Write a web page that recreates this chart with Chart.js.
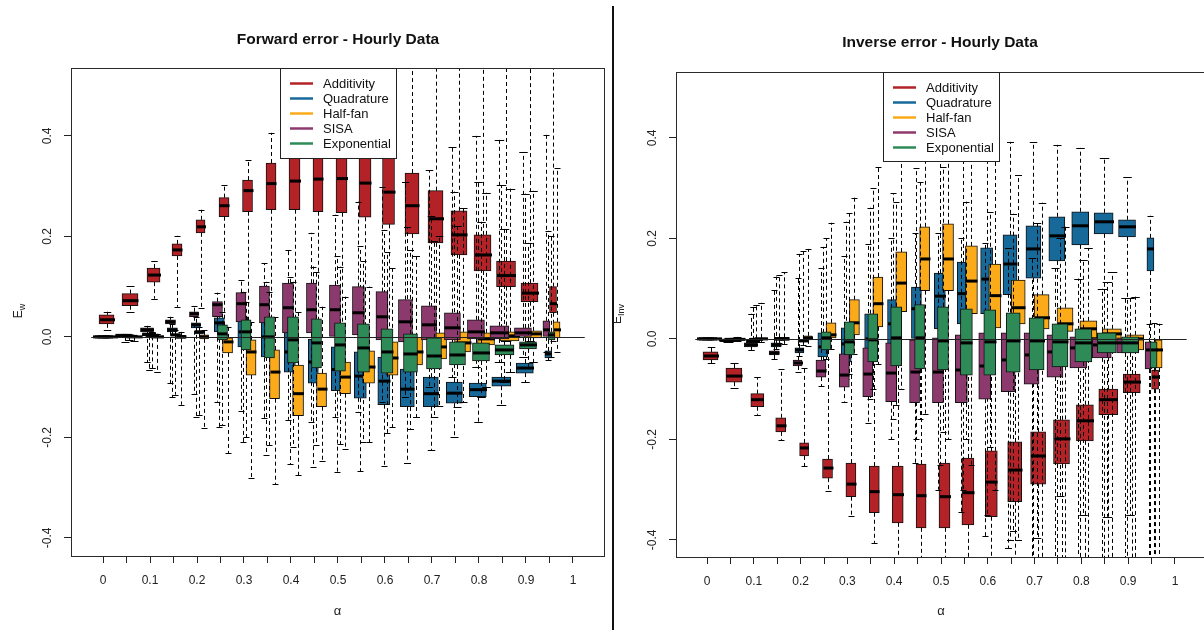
<!DOCTYPE html>
<html><head><meta charset="utf-8">
<script src="https://cdn.jsdelivr.net/npm/chart.js@4.4.1/dist/chart.umd.min.js"></script>
<style>
html,body{margin:0;padding:0;background:#fff;width:1204px;height:630px;overflow:hidden;}
#wrap{position:relative;width:1204px;height:630px;overflow:hidden;background:#fff;}
#cL{position:absolute;left:0;top:0;}
#cR{position:absolute;left:612px;top:0;}
#divider{position:absolute;left:612px;top:6px;width:2px;height:624px;background:#111;}
</style></head><body>
<div id="wrap">
<canvas id="cL" width="676" height="630"></canvas>
<canvas id="cR" width="656" height="630"></canvas>
<div id="divider"></div>
</div>
<script>
// ---------------- DATA ----------------
const alphaLevels = [0,0.05,0.1,0.15,0.2,0.25,0.3,0.35,0.4,0.45,0.5,0.55,0.6,0.65,0.7,0.75,0.8,0.85,0.9,0.95,1];
const alphaTickLabels = ['0','','0.1','','0.2','','0.3','','0.4','','0.5','','0.6','','0.7','','0.8','','0.9','','1'];
const yTickValues = [-0.4,-0.2,0,0.2,0.4];
const yTickLabels = ['-0.4','-0.2','0.0','0.2','0.4'];
const seriesNames = ['Additivity','Quadrature','Half-fan','SISA','Exponential'];
const panelTitles = ['Forward error - Hourly Data','Inverse error - Hourly Data'];

// each row: [lower whisker, Q1, median, Q3, upper whisker] for alpha = 0 ... 0.95
const fwdAdditivity = [
[0.014,0.026,0.034,0.044,0.050],[0.050,0.062,0.072,0.086,0.101],[0.076,0.109,0.123,0.137,0.151],
[0.060,0.161,0.173,0.185,0.201],[0.058,0.207,0.219,0.233,0.253],[0.004,0.239,0.261,0.277,0.302],
[0.000,0.249,0.291,0.312,0.352],[-0.004,0.253,0.305,0.346,0.406],[-0.006,0.253,0.310,0.362,0.600],
[-0.008,0.249,0.314,0.372,0.600],[-0.008,0.247,0.315,0.374,0.600],[-0.008,0.238,0.306,0.370,0.600],
[-0.008,0.224,0.288,0.356,0.600],[-0.008,0.205,0.261,0.326,0.600],[-0.008,0.187,0.235,0.291,0.600],
[-0.008,0.163,0.203,0.251,0.600],[-0.008,0.131,0.163,0.203,0.600],[-0.008,0.100,0.122,0.151,0.600],
[-0.008,0.070,0.087,0.107,0.600],[-0.008,0.048,0.066,0.100,0.600]];
const fwdQuadrature = [
[0,0,0,0,0],[-0.010,0.000,0.002,0.004,0.006],[-0.066,0.002,0.005,0.008,0.014],
[-0.120,0.010,0.014,0.018,0.026],[-0.160,0.018,0.024,0.028,0.040],[-0.180,0.010,0.028,0.038,0.060],
[-0.210,-0.020,0.010,0.040,0.090],[-0.235,-0.040,0.000,0.040,0.110],[-0.253,-0.070,-0.030,0.010,0.120],
[-0.258,-0.092,-0.050,-0.005,0.140],[-0.268,-0.107,-0.065,-0.020,0.160],[-0.267,-0.122,-0.078,-0.030,0.180],
[-0.257,-0.135,-0.088,-0.040,0.213],[-0.250,-0.139,-0.104,-0.064,0.219],[-0.225,-0.139,-0.113,-0.080,0.241],
[-0.200,-0.132,-0.112,-0.090,0.289],[-0.170,-0.119,-0.105,-0.092,0.308],[-0.135,-0.098,-0.088,-0.080,0.302],
[-0.090,-0.072,-0.062,-0.052,0.285],[-0.046,-0.042,-0.034,-0.028,0.211]];
const fwdHalfFan = [
[0,0,0,0,0],[-0.008,-0.001,0.000,0.001,0.002],[-0.070,-0.002,0.000,0.002,0.006],
[-0.135,-0.003,0.000,0.003,0.010],[-0.181,-0.004,0.000,0.004,0.014],[-0.231,-0.032,-0.010,-0.002,0.020],
[-0.280,-0.076,-0.030,-0.006,0.030],[-0.293,-0.123,-0.070,-0.026,0.040],[-0.275,-0.157,-0.113,-0.056,0.050],
[-0.247,-0.139,-0.104,-0.072,0.060],[-0.223,-0.113,-0.080,-0.050,0.080],[-0.210,-0.092,-0.060,-0.028,0.100],
[-0.180,-0.076,-0.042,-0.010,0.137],[-0.160,-0.056,-0.030,0.000,0.161],[-0.137,-0.044,-0.020,0.008,0.200],
[-0.130,-0.030,-0.012,0.010,0.257],[-0.100,-0.016,-0.004,0.008,0.287],[-0.070,-0.008,0.002,0.010,0.295],
[-0.050,-0.002,0.006,0.012,0.291],[-0.030,-0.002,0.014,0.030,0.336]];
const fwdSISA = [
[0,0,0,0,0],[0.000,0.002,0.003,0.004,0.006],[-0.050,0.010,0.014,0.018,0.022],
[-0.092,0.026,0.030,0.034,0.040],[-0.114,0.040,0.046,0.050,0.062],[-0.129,0.040,0.064,0.070,0.088],
[-0.147,0.030,0.066,0.088,0.113],[-0.161,0.028,0.064,0.101,0.147],[-0.165,0.008,0.058,0.107,0.173],
[-0.170,0.008,0.054,0.107,0.207],[-0.160,0.000,0.054,0.103,0.243],[-0.150,0.004,0.048,0.100,0.269],
[-0.130,-0.006,0.040,0.090,0.298],[-0.120,-0.010,0.030,0.074,0.308],[-0.100,-0.006,0.024,0.062,0.332],
[-0.080,-0.006,0.018,0.048,0.378],[-0.060,-0.004,0.010,0.034,0.400],[-0.050,-0.004,0.008,0.022,0.392],
[-0.040,0.000,0.008,0.018,0.368],[-0.030,0.000,0.014,0.032,0.402]];
const fwdExponential = [
[0,0,0,0,0],[-0.006,0.000,0.001,0.002,0.004],[-0.062,0.001,0.003,0.005,0.010],
[-0.115,0.002,0.004,0.006,0.014],[-0.155,0.006,0.010,0.012,0.020],[-0.175,-0.006,0.006,0.024,0.050],
[-0.200,-0.026,0.010,0.034,0.070],[-0.216,-0.042,0.000,0.040,0.090],[-0.220,-0.052,-0.006,0.040,0.110],
[-0.215,-0.062,-0.012,0.036,0.130],[-0.213,-0.068,-0.016,0.028,0.140],[-0.210,-0.070,-0.022,0.026,0.150],
[-0.191,-0.072,-0.030,0.016,0.169],[-0.183,-0.070,-0.034,0.006,0.173],[-0.159,-0.064,-0.038,-0.002,0.190],
[-0.140,-0.056,-0.036,-0.010,0.220],[-0.120,-0.048,-0.032,-0.012,0.229],[-0.090,-0.036,-0.026,-0.016,0.215],
[-0.060,-0.024,-0.016,-0.010,0.187],[-0.040,-0.006,0.004,0.010,0.200]];

const invAdditivity = [
[-0.048,-0.042,-0.034,-0.026,-0.016],[-0.098,-0.086,-0.074,-0.058,-0.048],[-0.151,-0.135,-0.121,-0.109,-0.076],
[-0.201,-0.185,-0.173,-0.157,-0.060],[-0.253,-0.233,-0.217,-0.207,-0.058],[-0.302,-0.277,-0.257,-0.239,0.000],
[-0.352,-0.314,-0.289,-0.247,0.000],[-0.406,-0.346,-0.304,-0.253,0.000],[-0.600,-0.366,-0.310,-0.253,0.000],
[-0.600,-0.376,-0.312,-0.249,0.000],[-0.600,-0.376,-0.314,-0.247,0.000],[-0.600,-0.370,-0.306,-0.237,0.000],
[-0.600,-0.354,-0.285,-0.223,0.000],[-0.600,-0.324,-0.261,-0.205,0.000],[-0.600,-0.289,-0.233,-0.185,0.000],
[-0.600,-0.249,-0.199,-0.161,0.000],[-0.600,-0.203,-0.163,-0.131,0.000],[-0.600,-0.151,-0.121,-0.100,0.000],
[-0.600,-0.107,-0.086,-0.070,0.000],[-0.600,-0.100,-0.076,-0.062,0.000]];
const invQuadrature = [
[0,0,0,0,0],[-0.006,-0.004,-0.003,-0.002,0.000],[-0.012,-0.008,-0.005,-0.002,0.064],
[-0.020,-0.016,-0.012,-0.008,0.124],[-0.034,-0.028,-0.022,-0.018,0.169],[-0.060,-0.036,-0.016,0.012,0.183],
[-0.080,-0.046,-0.010,0.022,0.233],[-0.120,-0.040,0.000,0.050,0.261],[-0.160,-0.020,0.030,0.078,0.290],
[-0.200,0.000,0.060,0.103,0.340],[-0.250,0.020,0.085,0.131,0.380],[-0.300,0.030,0.090,0.153,0.400],
[-0.350,0.050,0.119,0.181,0.400],[-0.400,0.088,0.149,0.207,0.392],[-0.600,0.121,0.179,0.225,0.392],
[-0.600,0.155,0.205,0.243,0.386],[-0.600,0.187,0.225,0.253,0.380],[-0.600,0.209,0.233,0.251,0.360],
[-0.600,0.203,0.223,0.237,0.322],[-0.600,0.135,0.179,0.201,0.245]];
const invHalfFan = [
[0,0,0,0,0],[-0.004,-0.002,-0.001,0.000,0.004],[-0.006,-0.002,0.000,0.002,0.072],
[-0.010,-0.003,0.000,0.003,0.133],[-0.014,-0.002,0.002,0.006,0.179],[-0.020,0.002,0.008,0.032,0.231],
[-0.030,0.008,0.032,0.078,0.281],[-0.050,0.024,0.070,0.123,0.342],[-0.100,0.054,0.111,0.173,0.450],
[-0.150,0.096,0.159,0.223,0.480],[-0.200,0.096,0.159,0.229,0.500],[-0.250,0.050,0.115,0.185,0.480],
[-0.300,0.022,0.086,0.149,0.400],[-0.400,0.030,0.062,0.117,0.326],[-0.600,0.020,0.042,0.088,0.271],
[-0.600,0.015,0.030,0.062,0.223],[-0.600,0.002,0.020,0.036,0.181],[-0.600,-0.008,0.010,0.020,0.133],
[-0.600,-0.022,0.000,0.008,0.084],[-0.600,-0.058,-0.022,-0.002,0.030]];
const invSISA = [
[0,0,0,0,0],[-0.006,-0.004,-0.003,-0.002,0.000],[-0.022,-0.016,-0.012,-0.008,0.050],
[-0.040,-0.032,-0.028,-0.024,0.098],[-0.066,-0.054,-0.048,-0.042,0.121],[-0.094,-0.076,-0.064,-0.042,0.141],
[-0.125,-0.096,-0.072,-0.030,0.165],[-0.167,-0.115,-0.070,-0.018,0.189],[-0.200,-0.125,-0.068,-0.008,0.200],
[-0.247,-0.127,-0.066,-0.002,0.210],[-0.300,-0.127,-0.066,0.002,0.210],[-0.344,-0.127,-0.062,0.008,0.200],
[-0.392,-0.120,-0.054,0.012,0.190],[-0.416,-0.105,-0.042,0.012,0.180],[-0.600,-0.090,-0.032,0.012,0.160],
[-0.600,-0.076,-0.026,0.008,0.141],[-0.600,-0.058,-0.018,0.004,0.120],[-0.600,-0.038,-0.012,0.002,0.100],
[-0.600,-0.028,-0.008,0.002,0.082],[-0.600,-0.060,-0.022,-0.006,0.030]];
const invExponential = [
[0,0,0,0,0],[-0.004,-0.002,-0.001,0.000,0.002],[-0.004,-0.002,-0.001,0.001,0.068],
[-0.008,-0.003,0.000,0.003,0.128],[-0.012,-0.006,-0.004,0.000,0.174],[-0.040,-0.022,0.002,0.014,0.200],
[-0.070,-0.032,-0.006,0.034,0.250],[-0.100,-0.046,-0.002,0.050,0.300],[-0.131,-0.054,0.002,0.064,0.273],
[-0.160,-0.060,0.002,0.068,0.312],[-0.185,-0.062,-0.004,0.064,0.342],[-0.200,-0.072,-0.008,0.060,0.273],
[-0.215,-0.072,-0.006,0.058,0.253],[-0.382,-0.066,-0.004,0.052,0.249],[-0.396,-0.062,-0.004,0.042,0.230],
[-0.312,-0.056,-0.006,0.030,0.200],[-0.350,-0.046,-0.008,0.020,0.157],[-0.354,-0.028,-0.008,0.012,0.113],
[-0.350,-0.028,-0.008,0.004,0.082],[-0.500,-0.058,-0.022,-0.006,0.032]];

// ---------------- STYLE ----------------
const seriesColors = ['#B22226','#17699A','#FBAA1A','#8C3A6E','#2E8B57'];
const seriesOffset = [0.15, -0.05, 0.3, -0.13, 0.085];   // x shift within an alpha group (index units)
const boxWidthPx = [15,16,13,10,9,10,10,10,11,10,11,12,12,14,15,16,17,19,17,7];
const FONT = "'Liberation Sans', Arial, sans-serif";
Chart.defaults.font.family = FONT;
Chart.defaults.color = '#222';

function buildDatasets(seriesData){
  const ds = [];
  seriesData.forEach((rows, s) => {
    rows.forEach((st, i) => {
      ds.push({
        type:'bar', label: seriesNames[s], yAxisID:'y',
        data:[{x: i + seriesOffset[s], y:[st[1], st[3]]}],
        stats: st,
        backgroundColor: seriesColors[s], borderColor:'#111', borderWidth:1, borderSkipped:false,
        barThickness: boxWidthPx[i], grouped:false, order: 5 - s
      });
    });
  });
  return ds;
}

const boxPlugin = {
  id:'rBoxplot',
  afterDatasetDraw(chart, args){
    const ds = chart.data.datasets[args.index];
    if(!ds.stats) return;
    const xs = chart.scales.x, ys = chart.scales.y, ctx = chart.ctx, a = chart.chartArea;
    const [lo,q1,med,q3,hi] = ds.stats;
    const cx = Math.round(xs.getPixelForValue(ds.data[0].x)) + 0.5;
    const w = ds.barThickness;
    const Y = v => ys.getPixelForValue(v);
    ctx.save();
    ctx.beginPath(); ctx.rect(a.left, a.top, a.right - a.left, a.bottom - a.top); ctx.clip();
    ctx.strokeStyle = '#000'; ctx.lineWidth = 1;
    ctx.setLineDash([4,3]);
    ctx.beginPath();
    if (hi > q3) { ctx.moveTo(cx, Y(q3)); ctx.lineTo(cx, Y(hi)); }
    if (lo < q1) { ctx.moveTo(cx, Y(q1)); ctx.lineTo(cx, Y(lo)); }
    ctx.stroke();
    ctx.setLineDash([]);
    const sw = Math.max(3, w / 4);
    ctx.beginPath();
    [lo, hi].forEach(v => { const py = Math.round(Y(v)) + 0.5; ctx.moveTo(cx - sw, py); ctx.lineTo(cx + sw, py); });
    ctx.stroke();
    ctx.lineWidth = 3;
    const pm = Y(med);
    ctx.beginPath(); ctx.moveTo(cx - w / 2, pm); ctx.lineTo(cx + w / 2, pm); ctx.stroke();
    ctx.restore();
  },
  afterDatasetsDraw(chart){
    const xs = chart.scales.x, ys = chart.scales.y, ctx = chart.ctx, a = chart.chartArea;
    ctx.save();
    ctx.strokeStyle = '#222'; ctx.lineWidth = 1;
    const y0 = Math.round(ys.getPixelForValue(0)) + 0.5;
    ctx.beginPath(); ctx.moveTo(xs.getPixelForValue(-0.5), y0); ctx.lineTo(xs.getPixelForValue(alphaLevels.length - 0.5), y0); ctx.stroke();
    ctx.strokeStyle = '#2a2a2a';
    ctx.strokeRect(Math.round(a.left) + 0.5, Math.round(a.top) + 0.5, Math.round(a.right - a.left), Math.round(a.bottom - a.top));
    ctx.restore();
  },
  afterDraw(chart, args, opts){
    const ctx = chart.ctx, a = chart.chartArea;
    // legend
    const L = Math.round(a.left + opts.legendDx), T = Math.round(a.top), W = 116, H = opts.legendH;
    ctx.save();
    ctx.fillStyle = '#fff'; ctx.fillRect(L, T, W, H);
    ctx.strokeStyle = '#222'; ctx.lineWidth = 1; ctx.strokeRect(L + 0.5, T + 0.5, W, H);
    seriesNames.forEach((n, k) => {
      const y = T + 15.5 + 15 * k;
      ctx.strokeStyle = seriesColors[k]; ctx.lineWidth = 2.5;
      ctx.beginPath(); ctx.moveTo(L + 10, y); ctx.lineTo(L + 33, y); ctx.stroke();
      ctx.fillStyle = '#111'; ctx.font = '13px ' + FONT; ctx.textBaseline = 'middle'; ctx.textAlign = 'left';
      ctx.fillText(n, L + 43, y + 0.5);
    });
    // y axis title E with subscript
    ctx.translate(opts.yTitleX, opts.yTitleY); ctx.rotate(-Math.PI / 2);
    ctx.fillStyle = '#222'; ctx.textBaseline = 'alphabetic'; ctx.textAlign = 'left';
    ctx.font = '12px ' + FONT; const eW = ctx.measureText('E').width;
    ctx.font = '9px ' + FONT; const sW = ctx.measureText(opts.sub).width;
    const start = -(eW + sW) / 2;
    ctx.font = '12px ' + FONT; ctx.fillText('E', start, 0);
    ctx.font = '9px ' + FONT; ctx.fillText(opts.sub, start + eW, 3);
    ctx.restore();
  }
};

function makeChart(canvasId, cfg){
  return new Chart(document.getElementById(canvasId), {
    type:'bar',
    data:{ datasets: buildDatasets(cfg.series) },
    plugins:[boxPlugin],
    options:{
      responsive:false, animation:false, devicePixelRatio:1, events:[],
      layout:{ padding:{ left:0, right:0, top:0, bottom:0 } },
      plugins:{
        legend:{display:false}, tooltip:{enabled:false},
        title:{ display:true, text:cfg.title, color:'#111', font:{size:15.5, weight:'bold'}, padding:{top:cfg.titleTop, bottom:cfg.titleBottom} },
        rBoxplot:{ legendDx:cfg.legendDx, legendH:cfg.legendH, yTitleX:cfg.yTitleX, yTitleY:cfg.yTitleY, sub:cfg.sub }
      },
      scales:{
        x:{
          type:'linear', min:cfg.xMin, max:cfg.xMax, offset:false,
          afterBuildTicks: s => { s.ticks = alphaLevels.map((a, i) => ({value:i})); },
          afterFit: s => { s.height = cfg.xAxisH; },
          ticks:{ autoSkip:false, maxRotation:0, minRotation:0, padding:10, color:'#222', font:{size:12},
            callback:(v, i) => alphaTickLabels[i] },
          grid:{ drawOnChartArea:false, drawTicks:true, tickLength:7, tickColor:'#222', offset:false },
          border:{ display:false },
          title:{ display:true, text:'α', color:'#222', font:{size:13}, padding:{top:0, bottom:11} }
        },
        y:{
          type:'linear', position:'left', min:cfg.yMin, max:cfg.yMax,
          afterBuildTicks: s => { s.ticks = yTickValues.map(v => ({value:v})); },
          afterFit: s => { s.width = cfg.yAxisW; },
          ticks:{ minRotation:90, maxRotation:90, crossAlign:'center', padding:6, color:'#222', font:{size:12},
            callback:(v, i) => yTickLabels[i] },
          grid:{ drawOnChartArea:false, drawTicks:true, tickLength:7, tickColor:'#222' },
          border:{ display:false }
        },
        ySpacer:{
          type:'linear', position:'right', display:true, min:0, max:1,
          afterFit: s => { s.width = cfg.rightW; },
          ticks:{ display:false }, grid:{ display:false }, border:{ display:false }
        }
      }
    }
  });
}

makeChart('cL', {
  series:[fwdAdditivity, fwdQuadrature, fwdHalfFan, fwdSISA, fwdExponential],
  title:panelTitles[0], yAxisW:71, rightW:72, titleTop:30.2, titleBottom:19.2,
  xMin:-1.362, xMax:21.32, yMin:-0.436, yMax:0.535, xAxisH:74,
  legendDx:209, legendH:90, yTitleX:22, yTitleY:311, sub:'w'
});
makeChart('cR', {
  series:[invAdditivity, invQuadrature, invHalfFan, invSISA, invExponential],
  title:panelTitles[1], yAxisW:64, rightW:62, titleTop:33.2, titleBottom:20.2,
  xMin:-1.325, xMax:21.325, yMin:-0.434, yMax:0.531, xAxisH:73,
  legendDx:207, legendH:89, yTitleX:9, yTitleY:314, sub:'Inv'
});
</script>
</body></html>
